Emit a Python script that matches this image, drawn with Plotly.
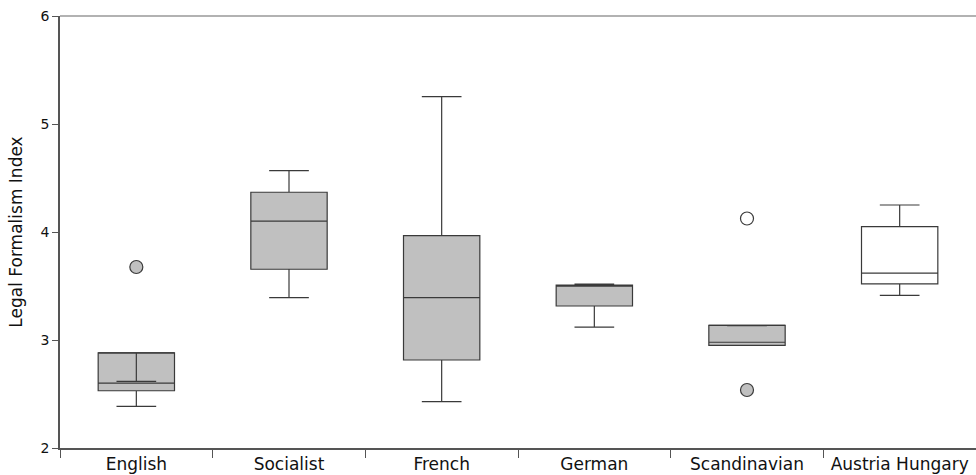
import plotly.graph_objects as go

categories = ["English", "Socialist", "French", "German", "Scandinavian", "Austria Hungary"]

# gray boxes (first five categories)
gray_cats = ["English", "Socialist", "French", "German", "Scandinavian"]
gray_q1 = [2.53, 3.655, 2.815, 3.315, 2.951]
gray_median = [2.60, 4.10, 3.392, 3.505, 2.979]
gray_q3 = [2.88, 4.368, 3.966, 3.509, 3.136]
gray_lower = [2.385, 3.392, 2.429, 3.12, 2.955]
gray_upper = [2.617, 4.568, 5.253, 3.518, 3.133]

# white box
white_cats = ["Austria Hungary"]
white_q1 = [3.52]
white_median = [3.62]
white_q3 = [4.05]
white_lower = [3.414]
white_upper = [4.25]

# outliers
out_gray_cats = ["English", "Scandinavian"]
out_gray_vals = [3.676, 2.537]
out_white_cats = ["Scandinavian"]
out_white_vals = [4.125]

line_col = "#3a3a3a"

fig = go.Figure()
fig.add_trace(go.Box(
    x=gray_cats, q1=gray_q1, median=gray_median, q3=gray_q3,
    lowerfence=gray_lower, upperfence=gray_upper,
    fillcolor="#c0c0c0", line=dict(color=line_col, width=1.2),
    width=0.5, whiskerwidth=0.52, boxpoints=False, showlegend=False,
))

# upper whiskers that end below Q3 (drawn inside the box, as in the reference)
inner = [i for i in range(len(gray_cats)) if gray_upper[i] < gray_q3[i]]
fig.add_trace(go.Box(
    x=[gray_cats[i] for i in inner],
    q1=[gray_q3[i] for i in inner], median=[gray_q3[i] for i in inner],
    q3=[gray_q3[i] for i in inner],
    lowerfence=[gray_upper[i] for i in inner], upperfence=[gray_q3[i] for i in inner],
    fillcolor="rgba(0,0,0,0)", line=dict(color=line_col, width=1.2),
    width=0.5, whiskerwidth=0.52, boxpoints=False, showlegend=False,
))

fig.add_trace(go.Box(
    x=white_cats, q1=white_q1, median=white_median, q3=white_q3,
    lowerfence=white_lower, upperfence=white_upper,
    fillcolor="#ffffff", line=dict(color=line_col, width=1.2),
    width=0.5, whiskerwidth=0.52, boxpoints=False, showlegend=False,
))
fig.add_trace(go.Scatter(
    x=out_gray_cats, y=out_gray_vals, mode="markers",
    marker=dict(size=13, color="#c0c0c0", line=dict(color=line_col, width=1.2)),
    showlegend=False,
))
fig.add_trace(go.Scatter(
    x=out_white_cats, y=out_white_vals, mode="markers",
    marker=dict(size=13, color="#ffffff", line=dict(color=line_col, width=1.2)),
    showlegend=False,
))

fig.add_shape(type="line", xref="paper", yref="paper", x0=0, x1=1, y0=1, y1=1,
              line=dict(color="#999999", width=1.5))

fig.update_layout(
    width=976, height=475,
    margin=dict(l=60, r=0, t=16, b=27),
    plot_bgcolor="white", paper_bgcolor="white",
    boxmode="overlay",
    font=dict(family="DejaVu Sans", color="#111111"),
    xaxis=dict(
        type="category", categoryorder="array", categoryarray=categories,
        range=[-0.5, 5.5], showgrid=False, zeroline=False,
        showline=True, linecolor="#555555", linewidth=1.5,
        ticks="outside", tickson="boundaries", ticklen=8, tickcolor="#555555",
        tickfont=dict(size=17), fixedrange=True,
    ),
    yaxis=dict(
        range=[2, 6], tickvals=[2, 3, 4, 5, 6], showgrid=False, zeroline=False,
        showline=True, linecolor="#555555", linewidth=1.5,
        ticks="outside", ticklen=6, tickcolor="#555555",
        tickfont=dict(size=14),
        title=dict(text="Legal Formalism Index", font=dict(size=17), standoff=14),
    ),
)

fig.write_html("out.html")
